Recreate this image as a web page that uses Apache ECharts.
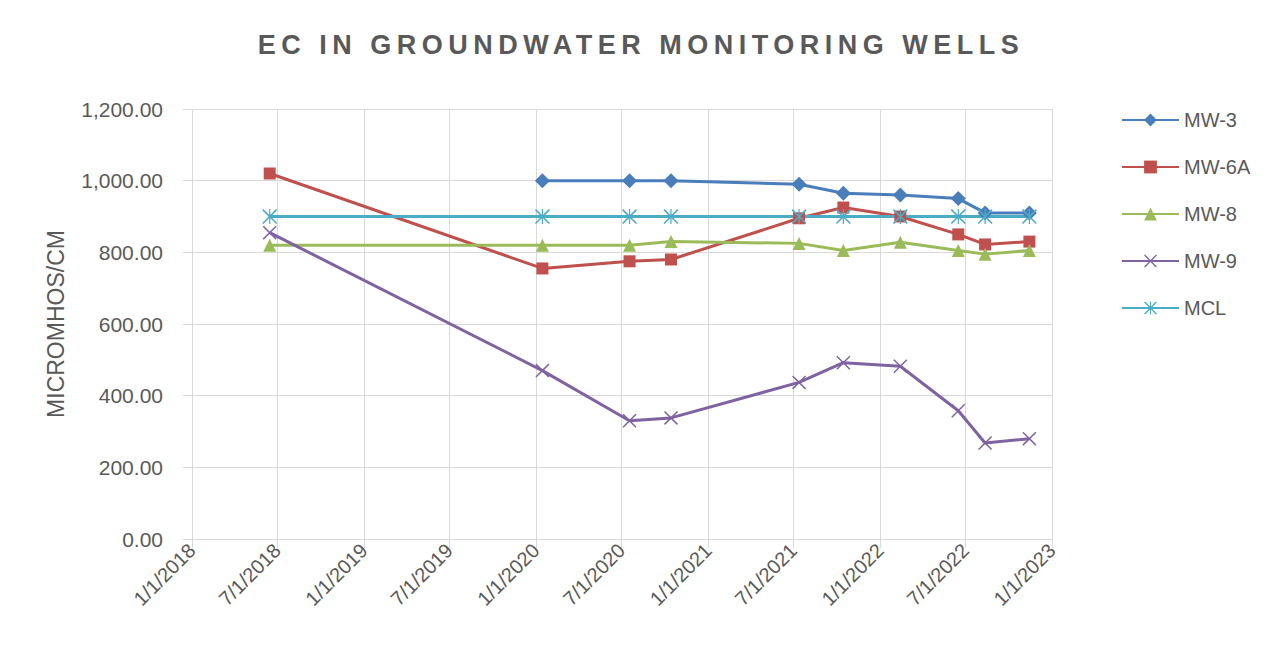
<!DOCTYPE html>
<html>
<head>
<meta charset="utf-8">
<script src="https://cdn.jsdelivr.net/npm/echarts@6/dist/echarts.min.js"></script>
<style>
html, body { margin: 0; padding: 0; background: #fff; }
#chart { width: 1282px; height: 669px; }
</style>
</head>
<body>
<div id="chart"></div>
<script>
const titleText = 'EC IN GROUNDWATER MONITORING WELLS';
const yName = 'MICROMHOS/CM';

// sample dates
const sampleDates = ['2018-06-15', '2020-01-15', '2020-07-18', '2020-10-14', '2021-07-13',
    '2021-10-15', '2022-02-13', '2022-06-16', '2022-08-12', '2022-11-14'];
const mw3 = [null, 1000, 1000, 1000, 990, 965, 960, 950, 910, 910];
const mw6a = [1020, 755, 775, 780, 895, 925, 900, 850, 822, 830];
const mw8 = [820, 820, 820, 830, 825, 805, 828, 805, 795, 805];
const mw9 = [855, 470, 330, 338, 437, 492, 482, 358, 268, 280];
const mcl = [900, 900, 900, 900, 900, 900, 900, 900, 900, 900];

const gray = '#595959';
const gridGray = '#d9d9d9';
const font = '"Liberation Sans", Arial, sans-serif';

// excel style x and asterisk markers
const xMark = 'path://M0,1.5L1.5,0L20,18.5L18.5,20Z M18.5,0L20,1.5L1.5,20L0,18.5Z';
const starMark = xMark + ' M9.2,0L10.8,0L10.8,20L9.2,20Z';

function makeSeries(name, values, symbol, size, color) {
    return {
        name: name,
        type: 'line',
        data: sampleDates.map((d, i) => [d, values[i]]),
        symbol: symbol,
        symbolSize: size,
        showSymbol: true,
        lineStyle: { width: 3, color: color },
        itemStyle: { color: color }
    };
}

const chart = echarts.init(document.getElementById('chart'), null, { renderer: 'svg' });

const option = {
    animation: false,
    backgroundColor: '#fff',
    title: {
        text: titleText,
        left: 'center',
        top: 26,
        textStyle: { fontFamily: font, fontSize: 27, fontWeight: 'bold', color: gray }
    },
    legend: {
        orient: 'vertical',
        left: 1116,
        top: 105,
        itemWidth: 57,
        itemHeight: 16,
        itemGap: 27,
        textStyle: { fontFamily: font, fontSize: 20, color: gray },
        data: ['MW-3', 'MW-6A', 'MW-8', 'MW-9', 'MCL']
    },
    grid: { left: 192, right: 230, top: 109, bottom: 130 },
    xAxis: {
        type: 'time',
        min: '2018-01-01',
        max: '2023-01-01',
        splitNumber: 10,
        axisLine: { lineStyle: { color: gridGray, width: 1 } },
        axisTick: { show: true, length: 9, lineStyle: { color: gridGray } },
        splitLine: { show: true, lineStyle: { color: gridGray, width: 1 } },
        axisLabel: {
            rotate: 45,
            margin: 8,
            showMinLabel: true,
            showMaxLabel: true,
            fontFamily: font,
            fontSize: 20,
            color: gray,
            formatter: '{M}/{d}/{yyyy}'
        }
    },
    yAxis: {
        type: 'value',
        min: 0,
        max: 1200,
        interval: 200,
        name: yName,
        nameLocation: 'middle',
        nameGap: 125,
        nameTextStyle: { fontFamily: font, fontSize: 23, color: gray },
        axisLine: { show: false },
        axisTick: { show: true, length: 9, lineStyle: { color: gridGray } },
        splitLine: { lineStyle: { color: gridGray, width: 1 } },
        axisLabel: {
            margin: 29,
            fontFamily: font,
            fontSize: 21,
            color: gray,
            formatter: v => v.toLocaleString('en-US', { minimumFractionDigits: 2, maximumFractionDigits: 2 })
        }
    },
    series: [
        makeSeries('MW-3', mw3, 'diamond', 15, '#4a7ebb'),
        makeSeries('MW-6A', mw6a, 'rect', 12, '#c0504d'),
        makeSeries('MW-8', mw8, 'triangle', 13, '#9bbb59'),
        makeSeries('MW-9', mw9, xMark, 14, '#7f63a1'),
        makeSeries('MCL', mcl, starMark, 15, '#4bacc6')
    ]
};

chart.setOption(option);

// spaced-out title like the excel chart style
function spaceTitle() {
    document.querySelectorAll('#chart text').forEach(t => {
        if (t.textContent === titleText) t.setAttribute('letter-spacing', '5.5px');
    });
}
chart.on('finished', spaceTitle);
spaceTitle();
</script>
</body>
</html>
